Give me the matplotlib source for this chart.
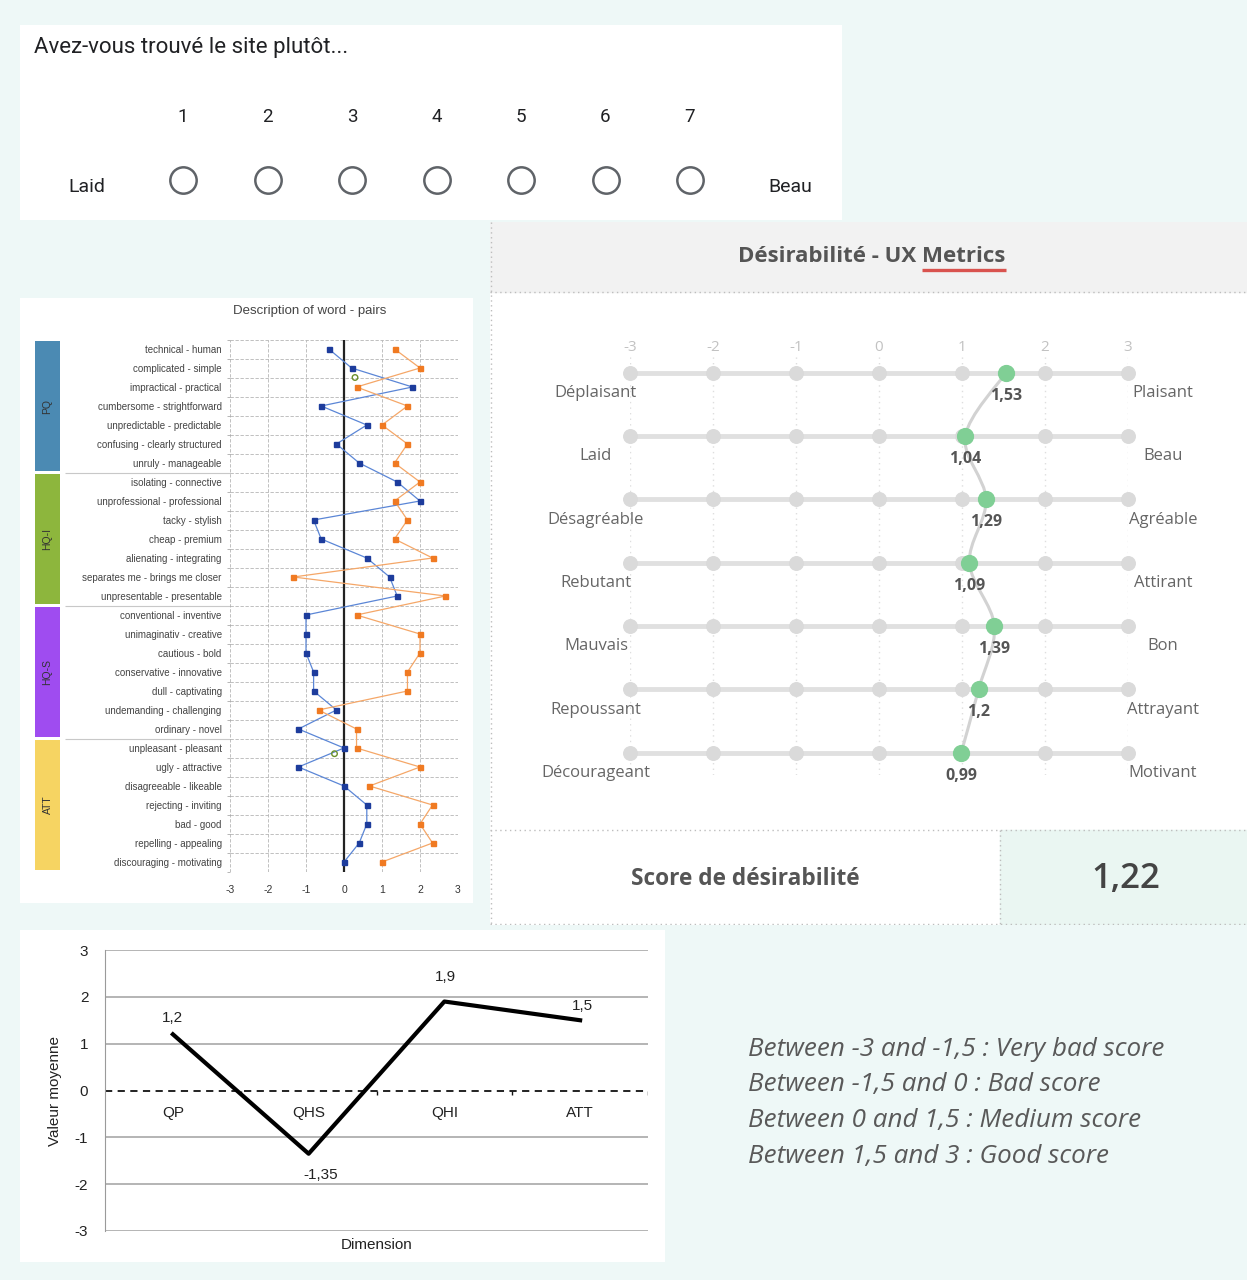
import numpy as np
import matplotlib.pyplot as plt
from matplotlib.patches import Rectangle, PathPatch
from matplotlib.path import Path
from matplotlib.transforms import blended_transform_factory

W, H = 1247, 1280

# ---- data ----
form_question = "Avez-vous trouvé le site plutôt..."
form_scale = [1, 2, 3, 4, 5, 6, 7]
form_left, form_right = "Laid", "Beau"

word_pairs = [
    "technical - human", "complicated - simple", "impractical - practical",
    "cumbersome - strightforward", "unpredictable - predictable",
    "confusing - clearly structured", "unruly - manageable",
    "isolating - connective", "unprofessional - professional", "tacky - stylish",
    "cheap - premium", "alienating - integrating", "separates me - brings me closer",
    "unpresentable - presentable",
    "conventional - inventive", "unimaginativ - creative", "cautious - bold",
    "conservative - innovative", "dull - captivating", "undemanding - challenging",
    "ordinary - novel",
    "unpleasant - pleasant", "ugly - attractive", "disagreeable - likeable",
    "rejecting - inviting", "bad - good", "repelling - appealing",
    "discouraging - motivating",
]
groups = ["PQ", "HQ-I", "HQ-S", "ATT"]
group_sizes = [7, 7, 7, 7]
group_colors = ["#4b8ab3", "#8db63d", "#9f4cf0", "#f6d462"]
pairs_blue = [-0.4, 0.2, 1.8, -0.6, 0.6, -0.2, 0.4,
              1.4, 2.0, -0.8, -0.6, 0.6, 1.2, 1.4,
              -1.0, -1.0, -1.0, -0.8, -0.8, -0.2, -1.2,
              0.0, -1.2, 0.0, 0.6, 0.6, 0.4, 0.0]
pairs_orange = [1.33, 2.0, 0.33, 1.67, 1.0, 1.67, 1.33,
                2.0, 1.33, 1.67, 1.33, 2.33, -1.33, 2.67,
                0.33, 2.0, 2.0, 1.67, 1.67, -0.67, 0.33,
                0.33, 2.0, 0.67, 2.33, 2.0, 2.33, 1.0]

desir_left = ["Déplaisant", "Laid", "Désagréable", "Rebutant", "Mauvais", "Repoussant", "Décourageant"]
desir_right = ["Plaisant", "Beau", "Agréable", "Attirant", "Bon", "Attrayant", "Motivant"]
desir_scores = [1.53, 1.04, 1.29, 1.09, 1.39, 1.2, 0.99]
desir_total = 1.22

dimensions = ["QP", "QHS", "QHI", "ATT"]
dim_means = [1.2, -1.35, 1.9, 1.5]

score_bands = [
    "Between -3 and -1,5 : Very bad score",
    "Between -1,5 and 0 : Bad score",
    "Between 0 and 1,5 : Medium score",
    "Between 1,5 and 3 : Good score",
]


def fr(v):
    return f"{v:g}".replace(".", ",")


def px_axes(x0, y0, x1, y1, **kw):
    # place an axes using pixel box of the reference (top-left origin)
    return fig.add_axes([x0 / W, 1 - y1 / H, (x1 - x0) / W, (y1 - y0) / H], **kw)


def blank(ax, color="white"):
    ax.set_facecolor(color)
    ax.set_xticks([])
    ax.set_yticks([])
    for s in ax.spines.values():
        s.set_visible(False)


fig = plt.figure(figsize=(W / 100, H / 100), dpi=100)
fig.patch.set_facecolor("#eef8f7")

# ---- panel 1 : form question ----
ax_f = px_axes(20, 25, 842, 220)
blank(ax_f)
ax_f.set_xlim(1 - 163 / 84.5, 7 + 152 / 84.5)
ax_f.set_ylim(195, 0)
ax_f.text(1 - 149 / 84.5, 23, form_question, fontsize=16, family="Roboto",
          color="#202124", va="center", ha="left")
ax_f.scatter(form_scale, [155] * len(form_scale), s=360, facecolor="white",
             edgecolor="#5f6368", linewidth=1.8, zorder=3)
for v in form_scale:
    ax_f.text(v, 92, str(v), fontsize=13.5, family="Roboto", color="#202124",
              ha="center", va="center")
tr = blended_transform_factory(ax_f.transAxes, ax_f.transData)
ax_f.text(0.0815, 162, form_left, transform=tr, fontsize=14,
          family="Roboto", color="#202124", ha="center", va="center")
ax_f.text(0.937, 162, form_right, transform=tr, fontsize=14,
          family="Roboto", color="#202124", ha="center", va="center")

# ---- panel 2 : description of word pairs ----
ax_wbg = px_axes(20, 298, 473, 903)
blank(ax_wbg)
ax_wbg.text(0.64, 0.978, "Description of word - pairs", transform=ax_wbg.transAxes,
            fontsize=9.5, family="Liberation Sans", color="#444444", ha="center", va="center")

n = len(word_pairs)
rows = np.arange(n)
ax_w = px_axes(230, 339.5, 458, 871.5)
ax_w.set_facecolor("none")
ax_w.set_xlim(-3, 3)
ax_w.set_ylim(n - 0.5, -0.5)
for s in ax_w.spines.values():
    s.set_visible(False)
for b in np.arange(-0.5, n, 1.0):
    ax_w.axhline(b, color="#b5b5b5", lw=0.6, ls=(0, (4, 2)), zorder=1)
for xv in range(-3, 4):
    ax_w.axvline(xv, color="#b5b5b5", lw=0.6, ls=(0, (4, 2)), zorder=1)
ax_w.axvline(0, color="#222222", lw=1.6, zorder=2)
ax_w.plot(pairs_blue, rows, color="#5b86d6", lw=0.9, marker="s", ms=3.6,
          mfc="#1d3c9c", mec="#1d3c9c", zorder=4)
ax_w.plot(pairs_orange, rows, color="#f5a768", lw=0.9, marker="s", ms=3.6,
          mfc="#f07a22", mec="#f07a22", zorder=4)
# small green markers left in the source chart
ax_w.scatter([0.29, -0.25], [1.5, 21.3], s=16, facecolor="none",
             edgecolor="#6a8f2a", lw=1.0, zorder=5)
ax_w.set_yticks(rows)
ax_w.set_yticklabels(word_pairs, fontsize=7, family="Liberation Sans", color="#444444")
ax_w.set_yticks(np.arange(-0.5, n, 1.0), minor=True)
ax_w.tick_params(axis="y", which="major", length=0, pad=6)
ax_w.tick_params(axis="y", which="minor", length=2.5, color="#999999", width=0.5)
ax_w.set_xticks(range(-3, 4))
ax_w.set_xticklabels([str(v) for v in range(-3, 4)], fontsize=7.5,
                     family="Liberation Sans", color="#333333")
ax_w.tick_params(axis="x", length=0, pad=10)

ax_c = px_axes(35, 339.5, 230, 871.5)
blank(ax_c, "none")
ax_c.set_xlim(0, 195)
ax_c.set_ylim(n - 0.5, -0.5)
start = 0
for g, size, col in zip(groups, group_sizes, group_colors):
    mid = start + (size - 1) / 2
    ax_c.barh(mid, 25, height=size - 0.15, left=0, color=col)
    ax_c.text(12.5, mid, g, rotation=90, fontsize=7.5, family="Liberation Sans",
              color="#333333", ha="center", va="center")
    if start > 0:
        ax_c.hlines(start - 0.5, 30, 195, color="#c8c8c8", lw=0.8)
    start += size

# ---- panel 3 : desirabilite ----
ax_p = px_axes(490, 222, 1247, 925)
blank(ax_p)
ax_p.set_xlim(490, 1247)
ax_p.set_ylim(925, 222)
ax_p.add_patch(Rectangle((490, 222), 757, 70, color="#f2f2f2", zorder=0))
ax_p.add_patch(Rectangle((1000, 830), 247, 95, color="#eaf6f2", zorder=0))
dot = dict(color="#bdbdbd", lw=1.0, ls=(0, (1, 2.5)))
ax_p.plot([491, 491], [222, 925], **dot)
ax_p.plot([490, 1247], [292, 292], **dot)
ax_p.plot([490, 1247], [830, 830], **dot)
ax_p.plot([490, 1247], [924, 924], **dot)
ax_p.plot([1000, 1000], [830, 925], **dot)
title = ax_p.text(872, 257, "Désirabilité - UX Metrics", fontsize=16, family="Open Sans",
                  weight="bold", color="#555555", ha="center", va="center")
ax_p.text(745, 879, "Score de désirabilité", fontsize=16.3, family="Open Sans",
          weight="bold", color="#555555", ha="center", va="center")
ax_p.text(1126, 879, fr(desir_total), fontsize=25, family="Open Sans",
          weight="semibold", color="#444444", ha="center", va="center")

m = len(desir_scores)
ax_d = px_axes(630, 355, 1128, 775)
ax_d.set_facecolor("none")
ax_d.set_xlim(-3, 3)
ax_d.set_ylim(6.35, -0.28)
for s in ax_d.spines.values():
    s.set_visible(False)
ax_d.set_yticks([])
ax_d.xaxis.tick_top()
ax_d.set_xticks(range(-3, 4))
ax_d.set_xticklabels([str(v) for v in range(-3, 4)], fontsize=11, family="Open Sans",
                     color="#c2c2c2")
ax_d.tick_params(axis="x", length=0, pad=0)
ax_d.grid(axis="x", color="#dedede", lw=1, ls=(0, (1, 3)))
ticks = np.arange(-3, 4)
for i in range(m):
    ax_d.hlines(i, -3, 3, color="#e0e0e0", lw=3.5, zorder=2)
    ax_d.scatter(ticks, [i] * len(ticks), s=95, color="#dadada", zorder=3, clip_on=False)
    ax_d.text(-3.41, i + 0.32, desir_left[i], fontsize=12, family="Open Sans",
              color="#666666", ha="center", va="center")
    ax_d.text(3.42, i + 0.32, desir_right[i], fontsize=12, family="Open Sans",
              color="#666666", ha="center", va="center")
    ax_d.text(desir_scores[i], i + 0.36, fr(desir_scores[i]), fontsize=11.5,
              family="Open Sans", weight="bold", color="#555555", ha="center",
              va="center", zorder=7)

# smooth grey link through the scores (Catmull-Rom drawn as bezier path)
pts = np.column_stack([desir_scores, np.arange(m)])
verts = [pts[0]]
codes = [Path.MOVETO]
for i in range(m - 1):
    p0 = pts[max(i - 1, 0)]
    p1, p2 = pts[i], pts[i + 1]
    p3 = pts[min(i + 2, m - 1)]
    verts += [p1 + (p2 - p0) / 6, p2 - (p3 - p1) / 6, p2]
    codes += [Path.CURVE4] * 3
ax_d.add_patch(PathPatch(Path(verts, codes), fill=False, edgecolor="#d2d2d2", lw=2.2, zorder=4))
ax_d.scatter(desir_scores, np.arange(m), s=130, color="#80cf95", zorder=5, clip_on=False)

# ---- panel 4 : mean values per dimension ----
ax_bbg = px_axes(20, 930, 665, 1262)
blank(ax_bbg)
ax_b = px_axes(105, 950, 648, 1231)
ax_b.set_facecolor("none")
ax_b.set_xlim(-0.5, len(dimensions) - 0.5)
ax_b.set_ylim(-3, 3)
for s in ["top", "right", "bottom"]:
    ax_b.spines[s].set_visible(False)
ax_b.spines["left"].set_color("#9a9a9a")
for yv in [-3, -2, -1, 1, 2, 3]:
    ax_b.axhline(yv, color="#a8a8a8", lw=1.2, zorder=1)
ax_b.axhline(0, color="#111111", lw=1.3, ls=(0, (4, 3)), zorder=2)
ax_b.vlines(np.arange(len(dimensions)) + 0.5, -0.1, 0, color="#111111", lw=1)
ax_b.set_yticks(range(-3, 4))
ax_b.set_yticklabels([str(v) for v in range(-3, 4)], fontsize=11,
                     family="Liberation Sans", color="#222222")
ax_b.tick_params(axis="y", length=0, pad=12)
ax_b.set_xticks([])
xs = np.arange(len(dimensions))
ax_b.plot(xs, dim_means, color="black", lw=3, zorder=3)
label_offsets = [(0, 12), (9, -15), (1, 18), (2, 10)]
for x, v, off in zip(xs, dim_means, label_offsets):
    ax_b.annotate(fr(v), (x, v), xytext=off, textcoords="offset points", fontsize=11,
                  family="Liberation Sans", color="#222222", ha="center", va="center")
for x, d in zip(xs, dimensions):
    ax_b.text(x, -0.49, d, fontsize=11, family="Liberation Sans", color="#222222",
              ha="center", va="center")
ax_b.text(-0.092, 0.5, "Valeur moyenne", transform=ax_b.transAxes, rotation=90,
          fontsize=11, family="Liberation Sans", color="#222222", ha="center", va="center")
ax_b.text(0.5, -0.05, "Dimension", transform=ax_b.transAxes, fontsize=11,
          family="Liberation Sans", color="#222222", ha="center", va="center")

# ---- score bands text ----
for k, line in enumerate(score_bands):
    fig.text(748 / W, 1 - (1049 + 36 * k) / H, line, fontsize=18.7, family="Open Sans",
             style="italic", color="#595959", ha="left", va="center")

# red underline under "Metrics"
fig.canvas.draw()
renderer = fig.canvas.get_renderer()
bb = title.get_window_extent(renderer)
probe = ax_p.text(0, 0, "Metrics", fontsize=16, family="Open Sans", weight="bold")
wm = probe.get_window_extent(renderer).width
probe.remove()
inv = ax_p.transData.inverted()
xa = inv.transform((bb.x1 - wm, 0))[0]
xb = inv.transform((bb.x1, 0))[0]
ax_p.plot([xa, xb], [270, 270], color="#d9534f", lw=2.4, solid_capstyle="butt")

plt.savefig("out.png", dpi=100, facecolor=fig.get_facecolor())
